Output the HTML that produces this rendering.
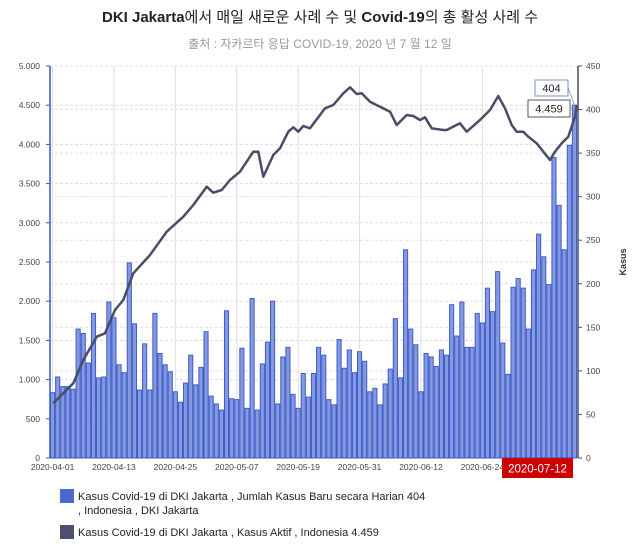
<!DOCTYPE html>
<html><head><meta charset="utf-8"><style>
body{margin:0;background:#fff;width:640px;height:551px;overflow:hidden;font-family:"Liberation Sans","Noto Sans CJK KR",sans-serif}
</style></head><body>
<svg id="c" width="640" height="551" xmlns="http://www.w3.org/2000/svg" font-family="Liberation Sans, Noto Sans CJK KR, sans-serif">
<text x="320" y="22" text-anchor="middle" font-size="15" font-weight="bold" fill="#222">DKI Jakarta<tspan font-weight="normal">에서 매일 새로운 사례 수 및 </tspan>Covid-19<tspan font-weight="normal">의 총 활성 사례 수</tspan></text>
<text x="320" y="48" text-anchor="middle" font-size="12" fill="#999">출처 : 자카르타 응답 COVID-19, 2020 년 7 월 12 일</text>
<g id="grid"></g><g id="bars"></g>
<polyline fill="none" stroke="#4a4d66" stroke-width="2.5" stroke-linejoin="round" points="53.3,403.3 73.3,383.3 83.3,360 96.7,336.7 105,333.3 115,310 123.3,300 133.3,273.3 150,255 166.7,231.7 183.3,216.7 193.3,205 206.7,186.7 213.3,192.7 221.7,190 230,180 240,171.7 253.3,151.7 258.3,151.7 263.3,176.7 273.3,155 280,148.3 288.3,131.7 293.3,127.3 298.3,131.7 303.3,126 310,128.3 320,115 325,108.3 333.3,105 343.3,93.3 350,87.3 356.7,94 361.7,93.3 370,101.7 380,106.7 390,111.7 396.7,125 406.7,115 413.3,116 420,120 425,117.3 431.7,128.3 443.3,130 446.7,130 460,123.3 466.7,131.7 480,120 490,110 498.3,96 505,108.3 511.7,125 516.7,131.7 523.3,131.7 528.3,136.7 536.7,143.3 543.3,151.7 550,160 555,151.7 561.7,143.3 568.3,136.7 575,116.7 576.7,105"/>
<line x1="50" y1="66" x2="50" y2="458" stroke="#3b57c4" stroke-width="1.5"/>
<line x1="50" y1="458" x2="577" y2="458" stroke="#3b57c4" stroke-width="1"/>
<line x1="578" y1="66" x2="578" y2="458" stroke="#4a4d66" stroke-width="1.5"/>
<g id="lab" font-size="8.5" fill="#444"></g>
<rect x="502" y="458" width="71" height="20" fill="#cc0000"/>
<text x="537.5" y="472.5" text-anchor="middle" font-size="11.5" fill="#fff">2020-07-12</text>
<text transform="translate(626,262) rotate(-90)" text-anchor="middle" font-size="9" font-weight="bold" fill="#333">Kasus</text>
<line x1="568" y1="88" x2="575" y2="106" stroke="#7a90c8" stroke-width="0.8"/>
<line x1="570" y1="108" x2="575" y2="108" stroke="#7a90c8" stroke-width="0.8"/>
<rect x="535" y="80" width="33" height="16" fill="#fff" stroke="#7a90c8"/>
<text x="551.5" y="92" text-anchor="middle" font-size="11" fill="#222">404</text>
<rect x="528" y="100" width="42" height="17" fill="#fff" stroke="#556"/>
<text x="549" y="112.5" text-anchor="middle" font-size="11" fill="#222">4.459</text>
<rect x="60" y="489" width="14" height="14" fill="#4a68d0"/>
<text x="78" y="500" font-size="11" fill="#222">Kasus Covid-19 di DKI Jakarta , Jumlah Kasus Baru secara Harian 404</text>
<text x="78" y="514" font-size="11" fill="#222">, Indonesia , DKI Jakarta</text>
<rect x="60" y="525" width="14" height="14" fill="#4c4f6e"/>
<text x="78" y="536" font-size="11" fill="#222">Kasus Covid-19 di DKI Jakarta , Kasus Aktif , Indonesia 4.459</text>
</svg>
<script>
var NS="http://www.w3.org/2000/svg";
function el(p,t,a,txt){var e=document.createElementNS(NS,t);for(var k in a)e.setAttribute(k,a[k]);if(txt!=null)e.textContent=txt;document.getElementById(p).appendChild(e);}
var v=[75,93,82,82,79,148,143,109,166,92,93,179,161,107,98,224,154,78,131,78,166,120,107,99,76,64,86,118,84,104,145,71,62,55,169,68,67,126,57,183,55,108,133,180,62,116,127,73,57,97,70,97,127,118,67,61,136,103,124,98,122,111,76,80,61,85,102,160,92,239,148,130,76,120,116,105,124,118,176,140,179,127,127,166,155,195,168,214,132,96,196,206,195,148,216,257,231,199,345,290,239,359,405];
var x0=50,step=527/103,y0=458;
for(var d=0;d<=84;d+=12){var x=x0+(d+0.5)*step;el("grid","line",{x1:x,y1:66,x2:x,y2:458,stroke:"#ddd","stroke-width":1});}
for(var i=0;i<=10;i++){var y=458-i*39.2;el("grid","line",{x1:50,y1:y,x2:577,y2:y,stroke:"#ddd","stroke-dasharray":"3,2"});
el("lab","text",{x:40,y:y+3,"text-anchor":"end"},(i*500).toLocaleString("de-DE"));el("grid","line",{x1:46,y1:y,x2:50,y2:y,stroke:"#3b57c4"});}
for(var i=0;i<=9;i++){var y=458-i*50*392/450;el("grid","line",{x1:50,y1:y,x2:577,y2:y,stroke:"#e2e2e2","stroke-dasharray":"3,2"});
el("lab","text",{x:586,y:y+3},String(i*50));el("grid","line",{x1:578,y1:y,x2:582,y2:y,stroke:"#4a4d66"});}
var dates=["2020-04-01","2020-04-13","2020-04-25","2020-05-07","2020-05-19","2020-05-31","2020-06-12","2020-06-24"];
for(var k=0;k<8;k++){el("lab","text",{x:x0+(k*12+0.5)*step,y:470,"text-anchor":"middle"},dates[k]);}
for(var i=0;i<v.length;i++){var h=v[i]*392/450;el("bars","rect",{x:x0+i*step+0.5,y:y0-h,width:step-1,height:h,fill:"#8599e0",stroke:"#3f5cc8","stroke-width":1});}
</script>
</body></html>
